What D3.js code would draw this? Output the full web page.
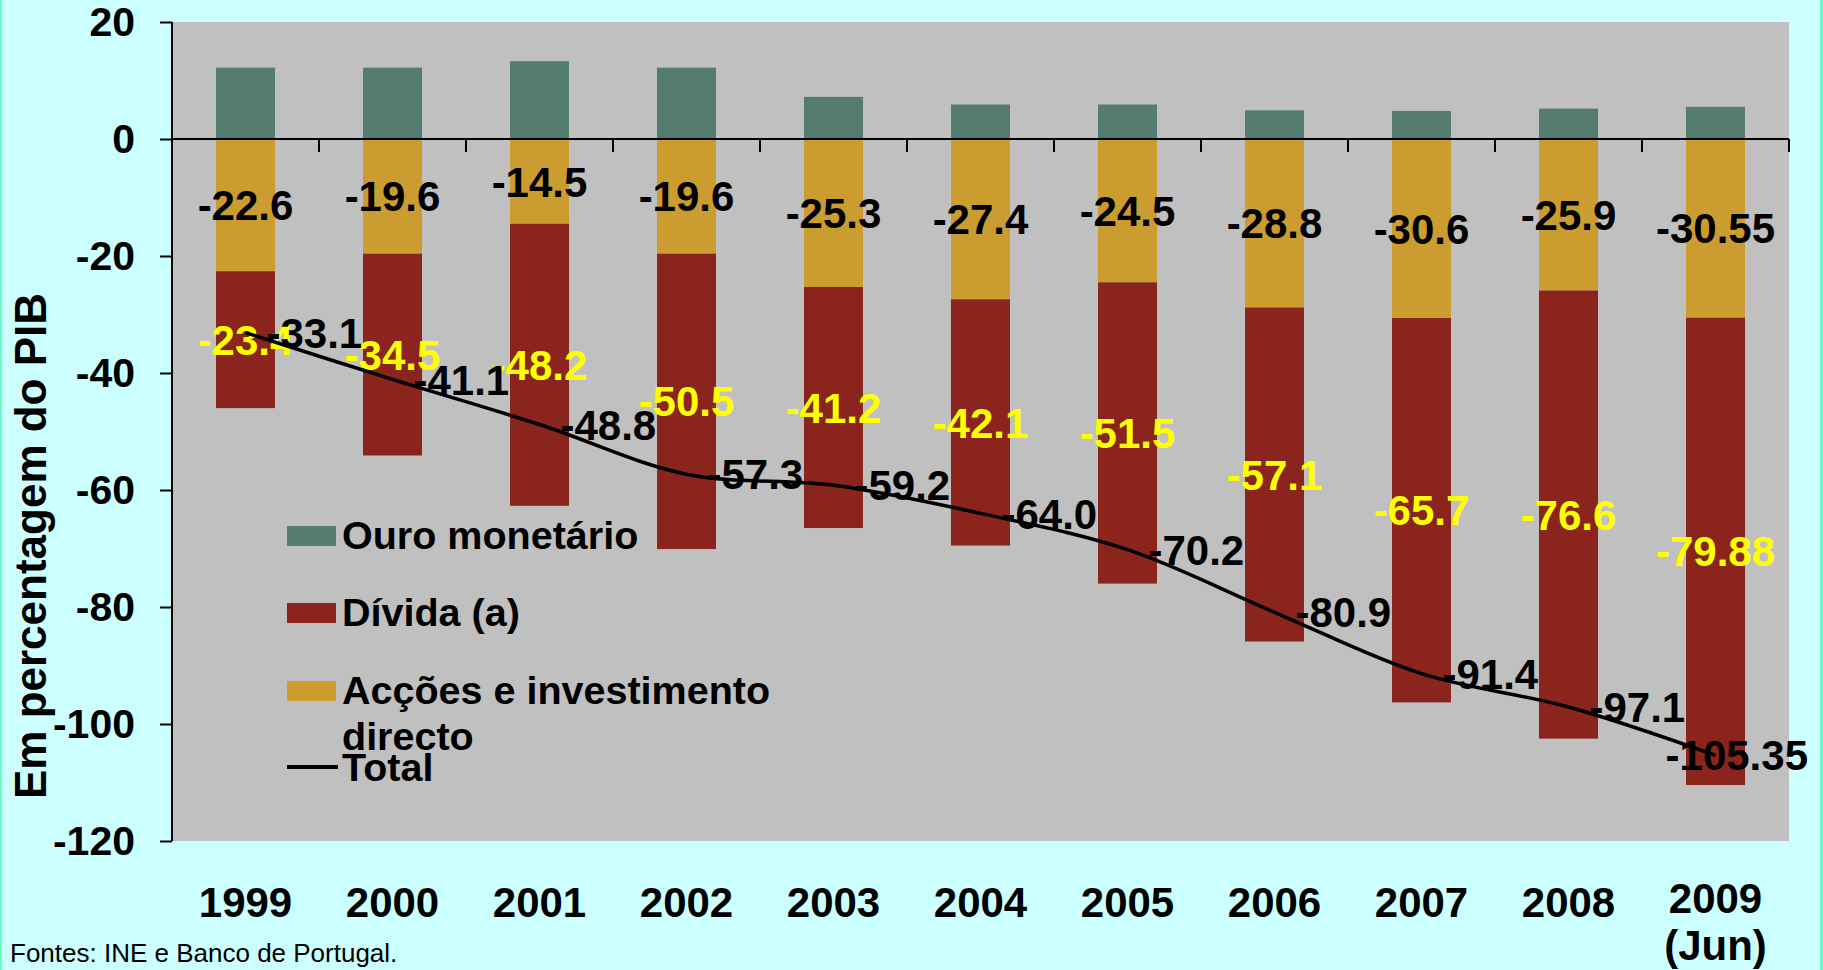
<!DOCTYPE html>
<html>
<head>
<meta charset="utf-8">
<script src="https://cdn.jsdelivr.net/npm/d3@7"></script>
<style>
  body { margin: 0; background: #CCFFFF; }
  svg { display: block; font-family: Arial, "Liberation Sans", sans-serif; }
</style>
</head>
<body>
<svg id="chart" width="1823" height="970"></svg>
<script>
// data
const years = ['1999', '2000', '2001', '2002', '2003', '2004', '2005', '2006', '2007', '2008', '2009'];
const yearLabels = [['1999'], ['2000'], ['2001'], ['2002'], ['2003'], ['2004'], ['2005'], ['2006'], ['2007'], ['2008'], ['2009', '(Jun)']];
const ouro = [12.2, 12.2, 13.3, 12.2, 7.2, 5.9, 5.9, 4.9, 4.8, 5.2, 5.5];
const accoes = [-22.6, -19.6, -14.5, -19.6, -25.3, -27.4, -24.5, -28.8, -30.6, -25.9, -30.55];
const divida = [-23.4, -34.5, -48.2, -50.5, -41.2, -42.1, -51.5, -57.1, -65.7, -76.6, -79.88];
const total = [-33.1, -41.1, -48.8, -57.3, -59.2, -64.0, -70.2, -80.9, -91.4, -97.1, -105.35];
const totalText = ['-33.1', '-41.1', '-48.8', '-57.3', '-59.2', '-64.0', '-70.2', '-80.9', '-91.4', '-97.1', '-105.35'];
const yTicks = [20, 0, -20, -40, -60, -80, -100, -120];

const colors = { ouro: '#557D6F', divida: '#8B241D', accoes: '#CB9C2F' };

const svg = d3.select('#chart');
const plot = { left: 172, right: 1789, top: 22, bottom: 841 };

const xBand = d3.scaleBand().domain(years).range([plot.left, plot.right]);
const y = d3.scaleLinear().domain([-120, 20]).range([plot.bottom, plot.top]);
const cx = (i) => xBand(years[i]) + xBand.bandwidth() / 2;

// side strips
svg.append('rect').attr('x', 0).attr('y', 0).attr('width', 2).attr('height', 970).attr('fill', '#66FFCC');
svg.append('rect').attr('x', 1820).attr('y', 0).attr('width', 3).attr('height', 970).attr('fill', '#66FFCC');

// plot background
svg.append('rect')
  .attr('x', plot.left).attr('y', plot.top)
  .attr('width', plot.right - plot.left).attr('height', plot.bottom - plot.top)
  .attr('fill', '#C0C0C0');

// stacked bars
const barW = 59;
const drawBars = (vals, base, color) => {
  svg.append('g').selectAll('rect')
    .data(vals)
    .join('rect')
    .attr('x', (d, i) => cx(i) - barW / 2)
    .attr('width', barW)
    .attr('y', (d, i) => Math.min(y(base[i]), y(base[i] + d)))
    .attr('height', (d, i) => Math.abs(y(base[i] + d) - y(base[i])))
    .attr('fill', color);
};
const zeros = years.map(() => 0);
drawBars(ouro, zeros, colors.ouro);
drawBars(accoes, zeros, colors.accoes);
drawBars(divida, accoes, colors.divida);

// y axis
const yAxis = svg.append('g')
  .attr('transform', `translate(${plot.left},0)`)
  .call(d3.axisLeft(y).tickValues(yTicks).tickSize(12).tickPadding(25).tickFormat(d3.format('d')));
yAxis.select('.domain').attr('stroke', '#000').attr('stroke-width', 2).attr('d', `M0,${plot.top}V${plot.bottom}`);
yAxis.selectAll('.tick line').attr('stroke', '#000').attr('stroke-width', 2);
yAxis.selectAll('.tick text')
  .attr('font-size', 41).attr('font-weight', 'bold').attr('fill', '#000')
  .attr('font-family', 'Arial, "Liberation Sans", sans-serif')
  .text((d) => d < 0 ? '-' + Math.abs(d) : d);

// zero axis with category ticks
const zeroAxis = svg.append('g').attr('transform', `translate(0,${y(0)})`);
zeroAxis.append('line')
  .attr('x1', plot.left).attr('x2', plot.right)
  .attr('stroke', '#000').attr('stroke-width', 2);
zeroAxis.selectAll('line.tick')
  .data(years.concat(['end']))
  .join('line')
  .attr('class', 'tick')
  .attr('x1', (d, i) => plot.left + xBand.step() * i)
  .attr('x2', (d, i) => plot.left + xBand.step() * i)
  .attr('y1', 0).attr('y2', 13)
  .attr('stroke', '#000').attr('stroke-width', 2);

// segment labels
const segLabels = (vals, base, color) => {
  svg.append('g').selectAll('text')
    .data(vals)
    .join('text')
    .attr('x', (d, i) => cx(i))
    .attr('y', (d, i) => y(base[i] + d / 2))
    .attr('dy', '0.36em')
    .attr('text-anchor', 'middle')
    .attr('font-size', 42).attr('font-weight', 'bold')
    .attr('fill', color)
    .text((d) => d);
};
segLabels(accoes, zeros, '#000');
segLabels(divida, accoes, '#FFFF00');

// total line
const line = d3.line()
  .x((d, i) => cx(i))
  .y((d) => y(d))
  .curve(d3.curveCatmullRom.alpha(0.5));
svg.append('path')
  .datum(total)
  .attr('d', line)
  .attr('fill', 'none')
  .attr('stroke', '#000')
  .attr('stroke-width', 3.5);

// total labels
svg.append('g').selectAll('text')
  .data(total)
  .join('text')
  .attr('x', (d, i) => cx(i) + 21)
  .attr('y', (d) => y(d))
  .attr('dy', '0.36em')
  .attr('font-size', 42).attr('font-weight', 'bold')
  .attr('fill', '#000')
  .text((d, i) => totalText[i])
  .each(function() {
    const w = this.getComputedTextLength();
    const x0 = +this.getAttribute('x');
    if (x0 + w > 1808) d3.select(this).attr('x', 1808 - w);
  });

// x labels
const xLab = svg.append('g').selectAll('text')
  .data(yearLabels)
  .join('text')
  .attr('x', (d, i) => cx(i))
  .attr('y', (d) => d.length > 1 ? 913 : 917)
  .attr('text-anchor', 'middle')
  .attr('font-size', 42).attr('font-weight', 'bold')
  .attr('fill', '#000');
xLab.selectAll('tspan')
  .data((d) => d)
  .join('tspan')
  .attr('x', function() { return this.parentNode.getAttribute('x'); })
  .attr('dy', (d, i) => i === 0 ? 0 : 47)
  .text((d) => d);

// y title
svg.append('text')
  .attr('transform', 'translate(46,546) rotate(-90)')
  .attr('text-anchor', 'middle')
  .attr('font-size', 44).attr('font-weight', 'bold')
  .attr('fill', '#000')
  .text('Em percentagem do PIB');

// legend
const legend = svg.append('g').attr('font-size', 39.5).attr('font-weight', 'bold').attr('fill', '#000');
const legendItems = [
  { lines: ['Ouro monetário'], color: colors.ouro, yc: 536 },
  { lines: ['Dívida (a)'], color: colors.divida, yc: 613 },
  { lines: ['Acções e investimento', 'directo'], color: colors.accoes, yc: 691 }
];
legendItems.forEach((item) => {
  legend.append('rect')
    .attr('x', 287).attr('y', item.yc - 10)
    .attr('width', 49).attr('height', 20)
    .attr('fill', item.color);
  const t = legend.append('text').attr('x', 342).attr('y', item.yc + 13);
  item.lines.forEach((s, i) => {
    t.append('tspan').attr('x', 342).attr('dy', i === 0 ? 0 : 46).text(s);
  });
});
legend.append('line')
  .attr('x1', 287).attr('x2', 338)
  .attr('y1', 767).attr('y2', 767)
  .attr('stroke', '#000').attr('stroke-width', 4);
legend.append('text').attr('x', 342).attr('y', 781).text('Total');

// source
svg.append('text')
  .attr('x', 10).attr('y', 962)
  .attr('font-size', 26)
  .attr('fill', '#000')
  .text('Fontes: INE e Banco de Portugal.');
</script>
</body>
</html>
